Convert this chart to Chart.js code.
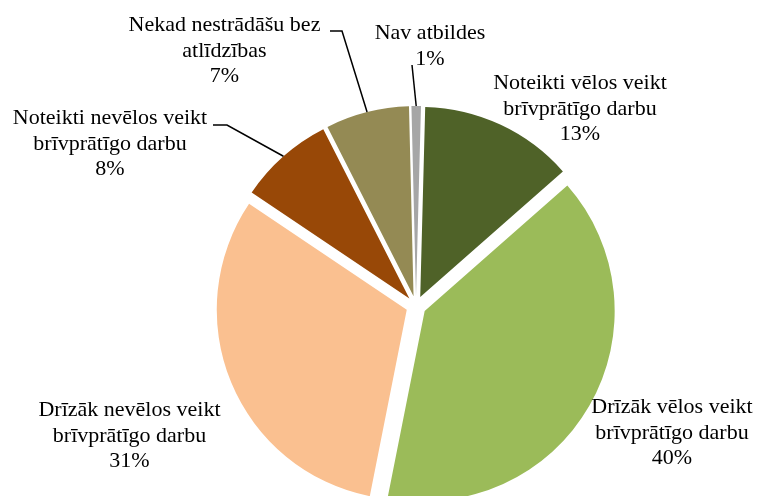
<!DOCTYPE html>
<html>
<head>
<meta charset="utf-8">
<script src="https://cdn.jsdelivr.net/npm/chart.js@4"></script>
<style>
  html, body { margin: 0; padding: 0; background: #fff; }
  #wrap { width: 757px; height: 496px; }
</style>
</head>
<body>
<div id="wrap"><canvas id="pie" width="757" height="496"></canvas></div>
<script>
// Kategorijas (rindās sadalītas kā attēlā)
const categories = [
  ["Noteikti vēlos veikt", "brīvprātīgo darbu"],
  ["Drīzāk vēlos veikt", "brīvprātīgo darbu"],
  ["Drīzāk nevēlos veikt", "brīvprātīgo darbu"],
  ["Noteikti nevēlos veikt", "brīvprātīgo darbu"],
  ["Nekad nestrādāšu bez", "atlīdzības"],
  ["Nav atbildes"],
];
// Daļas (%), nolasītas no sektoru leņķiem
const values = [13.1, 39.6, 31.3, 8.1, 7.1, 0.8];
const colors = ["#4F6228", "#9BBB59", "#FAC090", "#984807", "#948A54", "#A6A6A6"];

// Etiķešu izvietojums attiecībā pret apļa centru (pirmās rindas bāzes līnija)
const labelPos = [
  [164, -217], [256, 107], [-286.5, 110], [-306, -182], [-191.5, -275], [14, -267],
];
// Norādes līniju sākuma punkti (beigas - sektora ārmala)
const leaders = {
  3: [[-203, -181], [-189, -181]],
  4: [[-86, -275], [-74, -275]],
  5: [[-4, -241]],
};
const explode = 10;
const lineH = 25.5;

const explodePlugin = {
  id: "explode",
  afterDatasetUpdate(chart, args) {
    args.meta.data.forEach((arc) => {
      const mid = (arc.startAngle + arc.endAngle) / 2;
      arc.x += Math.cos(mid) * explode;
      arc.y += Math.sin(mid) * explode;
    });
  },
};

const labelPlugin = {
  id: "sliceLabels",
  afterDatasetsDraw(chart) {
    const ctx = chart.ctx;
    const area = chart.chartArea;
    const cx = (area.left + area.right) / 2;
    const cy = (area.top + area.bottom) / 2;
    const arcs = chart.getDatasetMeta(0).data;
    const total = values.reduce((a, b) => a + b, 0);
    ctx.save();
    ctx.fillStyle = "#000";
    ctx.strokeStyle = "#000";
    ctx.lineWidth = 1.5;
    ctx.font = '22px "Liberation Serif"';
    ctx.textAlign = "center";
    ctx.textBaseline = "alphabetic";
    categories.forEach((lines, i) => {
      const x = cx + labelPos[i][0];
      const y = cy + labelPos[i][1];
      const all = lines.concat([Math.round((values[i] / total) * 100) + "%"]);
      all.forEach((t, k) => ctx.fillText(t, x, y + k * lineH));

      if (leaders[i]) {
        const arc = arcs[i];
        const mid = (arc.startAngle + arc.endAngle) / 2;
        ctx.beginPath();
        leaders[i].forEach((p, k) => {
          if (k === 0) ctx.moveTo(cx + p[0], cy + p[1]);
          else ctx.lineTo(cx + p[0], cy + p[1]);
        });
        ctx.lineTo(arc.x + Math.cos(mid) * arc.outerRadius, arc.y + Math.sin(mid) * arc.outerRadius);
        ctx.stroke();
      }
    });
    ctx.restore();
  },
};

new Chart(document.getElementById("pie"), {
  type: "pie",
  data: {
    labels: categories,
    datasets: [
      {
        data: values,
        backgroundColor: colors,
        borderWidth: 0,
        clip: false,
      },
    ],
  },
  options: {
    responsive: false,
    animation: false,
    events: [],
    rotation: 1.5,
    radius: 190,
    layout: { padding: { left: 75, right: 0, top: 116, bottom: 0 } },
    plugins: {
      legend: { display: false },
      tooltip: { enabled: false },
    },
  },
  plugins: [explodePlugin, labelPlugin],
});
</script>
</body>
</html>
